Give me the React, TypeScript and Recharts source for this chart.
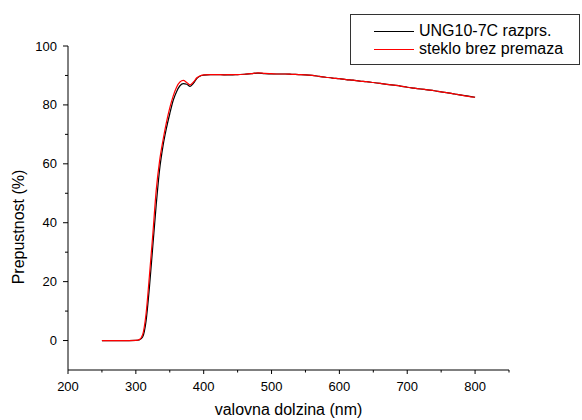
import { LineChart, Line, XAxis, YAxis } from 'recharts'

const wavelengths = [
  250, 260, 270, 280, 290, 300, 305, 310, 315, 320, 325, 330, 335, 340, 345,
  350, 355, 360, 365, 370, 375, 380, 385, 390, 395, 400, 410, 420, 430, 440,
  450, 460, 470, 480, 490, 500, 510, 520, 530, 540, 550, 560, 570, 580, 590,
  600, 610, 620, 630, 640, 650, 660, 670, 680, 690, 700, 710, 720, 730, 740,
  750, 760, 770, 780, 790, 800,
]

// UNG10-7C razprs.
const coated = [
  0, 0, 0, 0, 0, 0.05, 0.2, 1.2, 6.5, 18, 32, 46, 58, 66, 72,
  77, 81.5, 84.5, 86.5, 87.2, 87.0, 86.3, 87.4, 89.0, 89.8, 90.1, 90.3, 90.3, 90.2, 90.2,
  90.3, 90.4, 90.6, 90.8, 90.6, 90.5, 90.5, 90.5, 90.4, 90.3, 90.2, 90.0, 89.7, 89.4, 89.1,
  88.9, 88.6, 88.4, 88.1, 87.9, 87.6, 87.3, 87.0, 86.7, 86.4, 86.0, 85.7, 85.4, 85.1, 84.8,
  84.4, 84.1, 83.7, 83.3, 83.0, 82.6,
]

// steklo brez premaza
const bare = [
  0, 0, 0, 0, 0, 0.05, 0.3, 2, 9, 22, 36, 51, 61, 68, 74,
  79, 83, 86, 87.8, 88.3, 87.6, 86.8, 87.8, 89.2, 89.9, 90.2, 90.3, 90.3, 90.2, 90.3,
  90.3, 90.4, 90.6, 90.9, 90.7, 90.6, 90.5, 90.5, 90.4, 90.3, 90.2, 90.0, 89.7, 89.4, 89.1,
  88.9, 88.6, 88.4, 88.1, 87.9, 87.6, 87.3, 87.0, 86.7, 86.4, 86.0, 85.7, 85.4, 85.1, 84.8,
  84.4, 84.1, 83.7, 83.3, 82.9, 82.6,
]

const xTicks = [200, 250, 300, 350, 400, 450, 500, 550, 600, 650, 700, 750, 800, 850]
const yTicks = [0, 10, 20, 30, 40, 50, 60, 70, 80, 90, 100]

const series = [
  { key: 'coated', name: 'UNG10-7C razprs.', color: '#000000' },
  { key: 'bare', name: 'steklo brez premaza', color: '#ff0000' },
]

const data = wavelengths.map((nm, i) => ({ nm, coated: coated[i], bare: bare[i] }))

const font = 'Arial, "Liberation Sans", sans-serif'

const XTick = ({ x, y, payload }: any) => {
  const major = payload.value % 100 === 0
  return (
    <g>
      <line x1={x} x2={x} y1={y} y2={y + (major ? 4 : 2.5)} stroke="#000" />
      {major && (
        <text x={x} y={y + 21} textAnchor="middle" fontSize={13} fill="#000" fontFamily={font}>
          {payload.value}
        </text>
      )}
    </g>
  )
}

const YTick = ({ x, y, payload }: any) => {
  const major = payload.value % 20 === 0
  return (
    <g>
      <line x1={x - (major ? 5 : 3)} x2={x} y1={y} y2={y} stroke="#000" />
      {major && (
        <text x={x - 11} y={y + 4.5} textAnchor="end" fontSize={13} fill="#000" fontFamily={font}>
          {payload.value}
        </text>
      )}
    </g>
  )
}

export default function App() {
  return (
    <div style={{ position: 'absolute', left: 0, top: 0, width: 582, height: 420, background: '#fff' }}>
      <LineChart
        width={582}
        height={420}
        data={data}
        margin={{ top: 46, right: 73, left: 8, bottom: 0 }}
      >
        <XAxis
          dataKey="nm"
          type="number"
          domain={[200, 850]}
          ticks={xTicks}
          interval={0}
          height={50}
          tickLine={false}
          tickSize={0}
          tickMargin={0}
          tick={<XTick />}
          axisLine={{ stroke: '#000' }}
          label={{
            content: ({ viewBox }: any) => (
              <text
                x={viewBox.x + viewBox.width / 2}
                y={viewBox.y + 45}
                textAnchor="middle"
                fontSize={16}
                fill="#000"
                fontFamily={font}
              >
                valovna dolzina (nm)
              </text>
            ),
          }}
        />
        <YAxis
          type="number"
          domain={[-10, 100]}
          ticks={yTicks}
          interval={0}
          width={60}
          tickLine={false}
          tickSize={0}
          tickMargin={0}
          tick={<YTick />}
          axisLine={{ stroke: '#000' }}
          label={{
            content: ({ viewBox }: any) => {
              const cx = viewBox.x + 10
              const cy = 227
              return (
                <text
                  x={cx}
                  y={cy}
                  transform={`rotate(-90 ${cx} ${cy})`}
                  textAnchor="middle"
                  dominantBaseline="central"
                  fontSize={16}
                  fill="#000"
                  fontFamily={font}
                >
                  Prepustnost (%)
                </text>
              )
            },
          }}
        />
        {series.map((s) => (
          <Line
            key={s.key}
            dataKey={s.key}
            name={s.name}
            type="monotone"
            stroke={s.color}
            strokeWidth={1.2}
            dot={false}
            isAnimationActive={false}
          />
        ))}
      </LineChart>
      <div
        style={{
          position: 'absolute',
          left: 350,
          top: 14,
          width: 230,
          height: 51,
          border: '1.5px solid #333',
          boxSizing: 'border-box',
          fontFamily: font,
          fontSize: 16,
          color: '#000',
          paddingTop: 7,
        }}
      >
        {series.map((s) => (
          <div key={s.key} style={{ display: 'flex', alignItems: 'center', height: 18 }}>
            <div style={{ marginLeft: 23, width: 40, height: 0, borderTop: `1.2px solid ${s.color}` }} />
            <span style={{ marginLeft: 5, whiteSpace: 'nowrap' }}>{s.name}</span>
          </div>
        ))}
      </div>
    </div>
  )
}
